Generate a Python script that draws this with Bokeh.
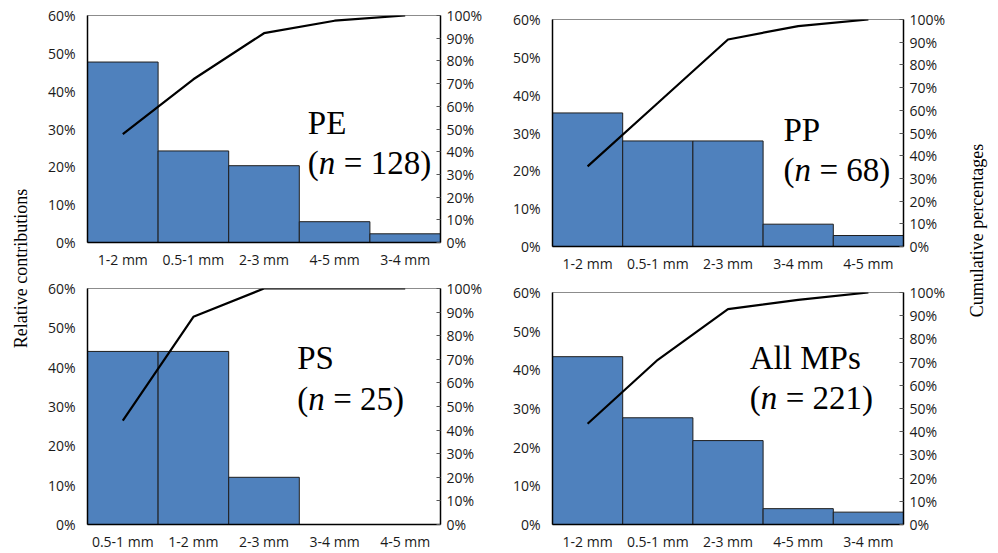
from math import pi
from bokeh.plotting import figure
from bokeh.layouts import row, column
from bokeh.models import (FactorRange, Range1d, LinearAxis, FixedTicker,
                          NumeralTickFormatter, ColumnDataSource)
from bokeh.core.properties import value
from bokeh.embed import file_html
from bokeh.resources import INLINE

# ---- data ----
pe_sizes = ["1-2 mm", "0.5-1 mm", "2-3 mm", "4-5 mm", "3-4 mm"]
pe_share = [47.7, 24.2, 20.3, 5.5, 2.3]
pe_cum = [47.7, 71.9, 92.2, 97.7, 100.0]

pp_sizes = ["1-2 mm", "0.5-1 mm", "2-3 mm", "3-4 mm", "4-5 mm"]
pp_share = [35.3, 27.9, 27.9, 5.9, 2.9]
pp_cum = [35.3, 63.2, 91.2, 97.1, 100.0]

ps_sizes = ["0.5-1 mm", "1-2 mm", "2-3 mm", "3-4 mm", "4-5 mm"]
ps_share = [44.0, 44.0, 12.0, 0.0, 0.0]
ps_cum = [44.0, 88.0, 100.0, 100.0, 100.0]

all_sizes = ["1-2 mm", "0.5-1 mm", "2-3 mm", "4-5 mm", "3-4 mm"]
all_share = [43.4, 27.6, 21.7, 4.1, 3.2]
all_cum = [43.4, 71.0, 92.8, 96.8, 100.0]

left_ticks = [0, 0.1, 0.2, 0.3, 0.4, 0.5, 0.6]
right_ticks = [0, 0.1, 0.2, 0.3, 0.4, 0.5, 0.6, 0.7, 0.8, 0.9, 1.0]

BAR = "#4F81BD"
TICK_FONT = "Open Sans"
SERIF = "Liberation Serif"


def panel(cats, share, cum, name, n, width, height, borders, tx, ty1, ty2):
    bl, br, bt, bb = borders
    p = figure(width=width, height=height, x_range=FactorRange(*cats),
               y_range=Range1d(0, 0.6), output_backend="svg",
               toolbar_location=None, min_border_left=bl, min_border_right=br,
               min_border_top=bt, min_border_bottom=bb)
    p.extra_y_ranges = {"cum": Range1d(0, 1)}
    src = ColumnDataSource(dict(cat=cats, share=[s / 100 for s in share],
                                cum=[c / 100 for c in cum]))
    p.vbar(x="cat", top="share", width=1, source=src, fill_color=BAR,
           line_color="#1e1e1e", line_width=1)
    p.line(x="cat", y="cum", source=src, y_range_name="cum",
           line_color="black", line_width=2.2)

    p.xgrid.visible = False
    p.ygrid.visible = False
    p.outline_line_color = "#8c8c8c"
    p.background_fill_color = "white"
    p.border_fill_color = "white"

    ya = p.yaxis[0]
    ya.ticker = FixedTicker(ticks=left_ticks)
    ya.formatter = NumeralTickFormatter(format="0%")
    ya.major_tick_line_color = None
    ya.minor_tick_line_color = None
    ya.axis_line_color = "black"
    ya.axis_line_width = 1.5
    ya.major_label_standoff = 6
    ya.major_label_text_font = TICK_FONT
    ya.major_label_text_font_size = "14px"
    ya.major_label_text_color = "#1a1a1a"

    xa = p.xaxis[0]
    xa.major_tick_line_color = None
    xa.axis_line_color = "black"
    xa.axis_line_width = 1.5
    xa.major_label_standoff = 1
    xa.major_label_text_font = TICK_FONT
    xa.major_label_text_font_size = "14px"
    xa.major_label_text_color = "#1a1a1a"

    ra = LinearAxis(y_range_name="cum", ticker=FixedTicker(ticks=right_ticks),
                    formatter=NumeralTickFormatter(format="0%"))
    ra.major_tick_in = 4
    ra.major_tick_out = 0
    ra.major_tick_line_color = "#555555"
    ra.minor_tick_line_color = None
    ra.axis_line_color = "black"
    ra.axis_line_width = 1.5
    ra.major_label_standoff = 6
    ra.major_label_text_font = TICK_FONT
    ra.major_label_text_font_size = "14px"
    ra.major_label_text_color = "#1a1a1a"
    p.add_layout(ra, "right")

    fs = "33px"
    p.text(x=[tx], y=[ty1], text=[name], text_font=value(SERIF),
           text_font_size=fs, text_color="black", text_baseline="alphabetic")
    p.text(x=[tx], y=[ty2], text=["("], text_font=value(SERIF),
           text_font_size=fs, text_color="black", text_baseline="alphabetic")
    p.text(x=[tx], y=[ty2], text=["n"], x_offset=11, text_font=value(SERIF),
           text_font_style="italic", text_font_size=fs, text_color="black",
           text_baseline="alphabetic")
    p.text(x=[tx], y=[ty2], text=["= %d)" % n], x_offset=36,
           text_font=value(SERIF), text_font_size=fs, text_color="black",
           text_baseline="alphabetic")
    return p


p1 = panel(pe_sizes, pe_share, pe_cum, "PE", 128, 470, 276,
           (49, 68, 15, 34), 3.12, 0.317, 0.211)
p2 = panel(pp_sizes, pp_share, pp_cum, "PP", 68, 452, 276,
           (44, 57, 19, 30), 3.29, 0.307, 0.201)
p3 = panel(ps_sizes, ps_share, ps_cum, "PS", 25, 470, 277,
           (49, 68, 12, 27), 2.97, 0.423, 0.319)
p4 = panel(all_sizes, all_share, all_cum, "All MPs", 221, 452, 277,
           (44, 57, 16, 26), 2.81, 0.43, 0.327)


def side_title(txt, width, height, cx, cy):
    f = figure(width=width, height=height, x_range=Range1d(0, width),
               y_range=Range1d(0, height), output_backend="svg",
               toolbar_location=None, x_axis_type=None, y_axis_type=None,
               min_border=0)
    f.outline_line_color = None
    f.xgrid.visible = False
    f.ygrid.visible = False
    f.text(x=[cx], y=[cy], text=[txt], angle=pi / 2, text_align="center",
           text_baseline="middle", text_font=value(SERIF),
           text_font_size="18px", text_color="black")
    return f


tl = side_title("Relative contributions", 38, 553, 20, 285)
tr = side_title("Cumulative percentages", 38, 553, 16, 323)

layout = row(tl, column(p1, p3), column(p2, p4), tr)

open("out.html", "w").write(file_html(layout, INLINE))
